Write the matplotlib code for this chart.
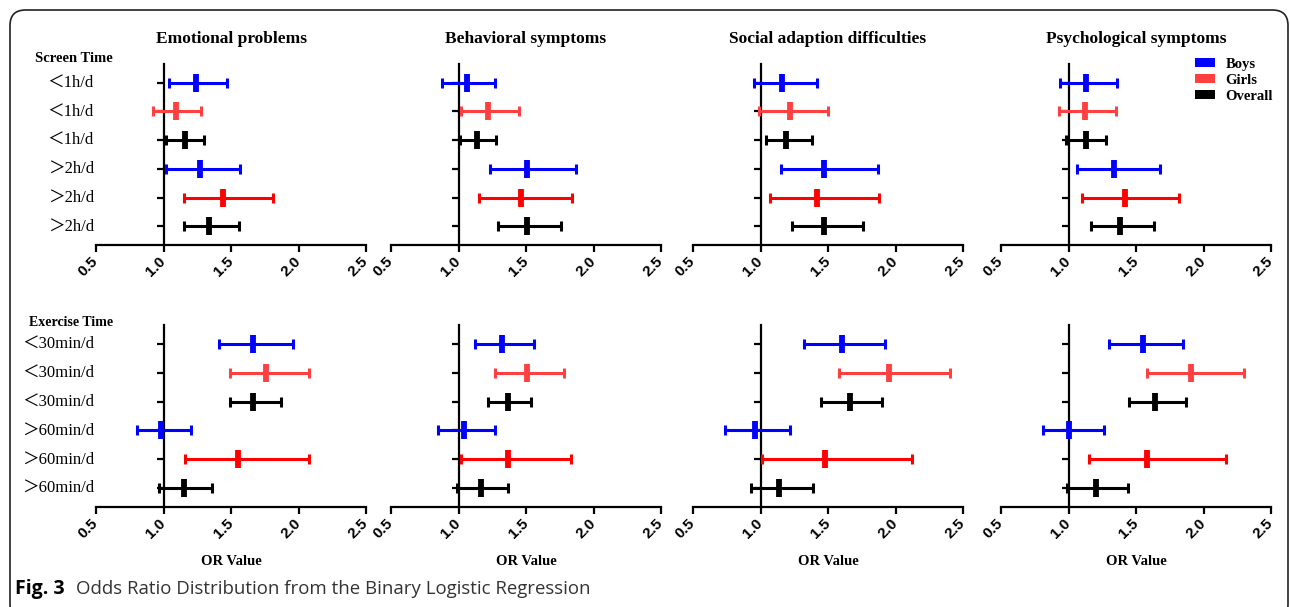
import matplotlib
matplotlib.use('Agg')
import matplotlib.pyplot as plt
from matplotlib.patches import Patch, FancyBboxPatch

# panel titles and row labels
outcomes = ['Emotional problems', 'Behavioral symptoms',
            'Social adaption difficulties', 'Psychological symptoms']
screen_labels = ['＜1h/d', '＜1h/d', '＜1h/d', '＞2h/d', '＞2h/d', '＞2h/d']
exercise_labels = ['＜30min/d', '＜30min/d', '＜30min/d',
                   '＞60min/d', '＞60min/d', '＞60min/d']
groups = ['Boys', 'Girls', 'Overall']

# odds ratios, one list of 6 rows per outcome
screen_or = [[1.24, 1.09, 1.16, 1.27, 1.44, 1.34],
             [1.06, 1.22, 1.14, 1.51, 1.46, 1.51],
             [1.16, 1.22, 1.19, 1.47, 1.42, 1.47],
             [1.13, 1.12, 1.13, 1.34, 1.42, 1.38]]
screen_lo = [[1.04, 0.92, 1.02, 1.02, 1.15, 1.15],
             [0.88, 1.02, 1.01, 1.23, 1.15, 1.29],
             [0.95, 0.99, 1.04, 1.15, 1.07, 1.23],
             [0.94, 0.93, 0.98, 1.06, 1.10, 1.17]]
screen_hi = [[1.47, 1.28, 1.30, 1.57, 1.81, 1.56],
             [1.27, 1.45, 1.28, 1.87, 1.84, 1.76],
             [1.42, 1.50, 1.38, 1.87, 1.88, 1.76],
             [1.36, 1.35, 1.28, 1.68, 1.82, 1.63]]

exercise_or = [[1.66, 1.76, 1.66, 0.98, 1.55, 1.15],
               [1.32, 1.51, 1.37, 1.04, 1.37, 1.17],
               [1.60, 1.95, 1.66, 0.96, 1.48, 1.14],
               [1.55, 1.91, 1.64, 1.00, 1.58, 1.20]]
exercise_lo = [[1.41, 1.49, 1.49, 0.80, 1.16, 0.97],
               [1.12, 1.27, 1.22, 0.85, 1.02, 0.99],
               [1.32, 1.58, 1.45, 0.74, 1.01, 0.93],
               [1.30, 1.58, 1.45, 0.81, 1.15, 0.99]]
exercise_hi = [[1.96, 2.08, 1.87, 1.20, 2.08, 1.36],
               [1.56, 1.78, 1.54, 1.27, 1.83, 1.37],
               [1.92, 2.40, 1.90, 1.22, 2.12, 1.39],
               [1.85, 2.30, 1.87, 1.26, 2.17, 1.44]]

xticks = [0.5, 1.0, 1.5, 2.0, 2.5]

row_colors = ['#0000ff', '#ff4040', '#000000', '#0000ff', '#ff0000', '#000000']
legend_colors = ['#0000ff', '#ff4040', '#000000']

serif = 'Liberation Serif'
label_font = ['Liberation Serif', 'Noto Sans CJK SC']

W, H = 1290, 607
fig = plt.figure(figsize=(W / 100, H / 100), dpi=100)

col_left = [96, 391, 693, 1001]
col_width = 270
row_span = [(64, 245), (325, 507)]


def make_panel(ax, ors, los, his, labels, first, bottom):
    rows = list(range(1, 7))
    for r, o, lo, hi, c in zip(rows, ors, los, his, row_colors):
        ax.errorbar([o], [r], xerr=[[o - lo], [hi - o]], fmt='none',
                    ecolor=c, elinewidth=2.2, capsize=3.8, capthick=2.2,
                    zorder=3)
        ax.plot([o], [r], marker='|', markersize=13, mew=4.2, color=c,
                zorder=4)
    ax.set_xlim(0.5, 2.5)
    ax.set_ylim(6.65, 0.35)
    ax.spines['top'].set_visible(False)
    ax.spines['right'].set_visible(False)
    ax.spines['left'].set_position(('data', 1.0))
    for s in ('left', 'bottom'):
        ax.spines[s].set_linewidth(1.6)
    ax.set_yticks(rows)
    ax.tick_params(axis='y', length=5, width=1.6, labelleft=False)
    ax.tick_params(axis='x', length=5, width=1.6, pad=5)
    ax.set_xticks(xticks)
    ax.set_xticklabels(['%.1f' % t for t in xticks], rotation=45,
                       ha='right', va='center', rotation_mode='anchor',
                       fontsize=11, fontweight='bold',
                       family='Liberation Sans')
    if first:
        for r, lab in zip(rows, labels):
            ax.text(0.485, r, lab, ha='right', va='center', fontsize=12,
                    family=label_font, clip_on=False)
    if bottom:
        ax.set_xlabel('OR Value', fontsize=10.5, fontweight='bold',
                      family=serif, labelpad=10)


for i, title in enumerate(outcomes):
    for j, (y0, y1) in enumerate(row_span):
        ax = fig.add_axes([col_left[i] / W, 1 - y1 / H,
                           col_width / W, (y1 - y0) / H])
        ax.patch.set_alpha(0)
        if j == 0:
            make_panel(ax, screen_or[i], screen_lo[i], screen_hi[i],
                       screen_labels, i == 0, False)
            ax.set_title(title, fontsize=12.5, fontweight='bold',
                         family=serif, pad=15)
        else:
            make_panel(ax, exercise_or[i], exercise_lo[i], exercise_hi[i],
                       exercise_labels, i == 0, True)

fig.text(35 / W, 1 - 59 / H, 'Screen Time', fontsize=10.5, fontweight='bold',
         family=serif, va='center')
fig.text(29 / W, 1 - 323 / H, 'Exercise Time', fontsize=10,
         fontweight='bold', family=serif, va='center')

handles = [Patch(facecolor=c, edgecolor='none') for c in legend_colors]
fig.legend(handles, groups, loc='upper left',
           bbox_to_anchor=(1195 / W, 1 - 58 / H), frameon=False,
           prop={'family': serif, 'weight': 'bold', 'size': 10.5},
           handlelength=1.35, handleheight=0.55, handletextpad=0.75,
           labelspacing=0.2, borderpad=0, borderaxespad=0)

# caption
fig.text(15 / W, 1 - 589 / H, 'Fig. 3', fontsize=14, fontweight='bold',
         family='Open Sans', va='center')
fig.text(76 / W, 1 - 589 / H,
         'Odds Ratio Distribution from the Binary Logistic Regression',
         fontsize=13.4, family='Open Sans', color='#333333', va='center')

# rounded frame around the figure
frame = FancyBboxPatch((22 / W, 1 - 608 / H), (1276 - 22) / W, (608 - 22) / H,
                       boxstyle='round,pad=0.0093,rounding_size=0.012',
                       transform=fig.transFigure, fill=False,
                       edgecolor='#222222', linewidth=1.2,
                       mutation_aspect=W / H)
fig.patches.append(frame)

fig.savefig('out.png', dpi=100)
